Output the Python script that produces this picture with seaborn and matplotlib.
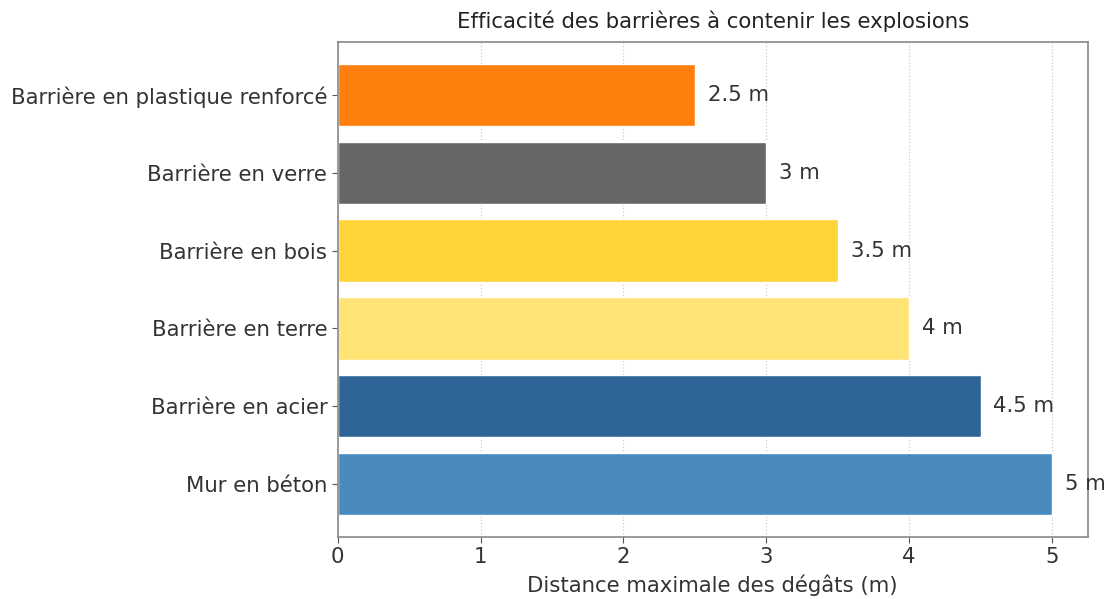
import matplotlib.pyplot as plt
import pandas as pd
import seaborn as sns

barriers = [
    "Barrière en plastique renforcé",
    "Barrière en verre",
    "Barrière en bois",
    "Barrière en terre",
    "Barrière en acier",
    "Mur en béton",
]
distances = [2.5, 3, 3.5, 4, 4.5, 5]
labels = ["2.5 m", "3 m", "3.5 m", "4 m", "4.5 m", "5 m"]
colors = ["#FF7F0E", "#666666", "#FFD43B", "#FFE375", "#2E6596", "#4A8BBF"]

sns.set_style("white")
plt.rcParams["font.family"] = ["DejaVu Sans"]

df = pd.DataFrame({"barrier": barriers, "distance": distances})

fig = plt.figure(figsize=(11.11, 5.99), dpi=100)
ax = fig.add_axes([0.304, 0.1035, 0.675, 0.8265])
sns.barplot(data=df, x="distance", y="barrier", hue="barrier", palette=colors,
            order=barriers, width=0.8, legend=False, ax=ax, saturation=1)

fs = 15.3
for i, (d, lab) in enumerate(zip(distances, labels)):
    ax.text(d + 0.09, i, lab, va="center", ha="left", fontsize=fs, color="#333333")

ax.set_xlim(0, 5.25)
ax.set_ylim(5.68, -0.68)
ax.set_xticks([0, 1, 2, 3, 4, 5])
ax.grid(axis="x", linestyle=":", color="#cccccc", linewidth=0.9)
ax.set_axisbelow(True)
ax.tick_params(axis="both", labelsize=fs, colors="#555555", labelcolor="#333333",
               length=4, left=True, bottom=True)
for sp in ax.spines.values():
    sp.set_color("#888888")
    sp.set_linewidth(1.2)
ax.set_title("Efficacité des barrières à contenir les explosions", fontsize=fs, pad=10, color="#222222")
ax.set_xlabel("Distance maximale des dégâts (m)", fontsize=fs, color="#333333", labelpad=5)
ax.set_ylabel("")

fig.savefig("out.png", dpi=100)
